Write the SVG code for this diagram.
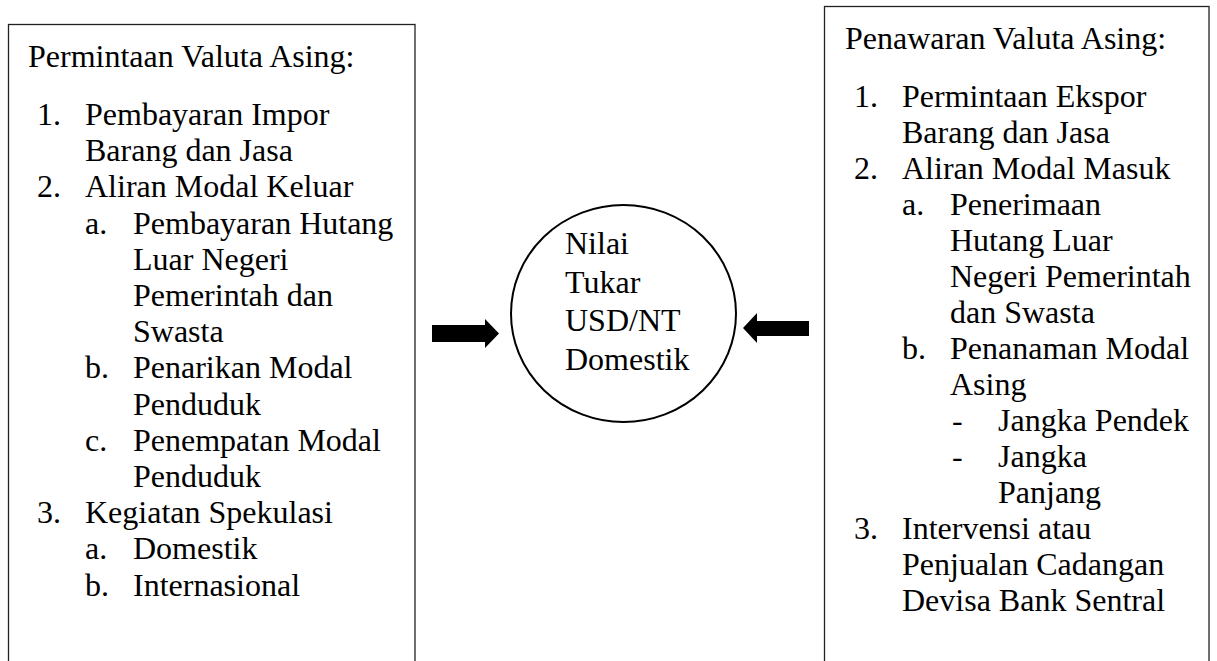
<svg xmlns="http://www.w3.org/2000/svg" width="1217" height="661" viewBox="0 0 1217 661">
<style>
  .box { fill: #fff; stroke: #222; stroke-width: 1.3; }
  .t { font-family: "Liberation Serif", "Times New Roman", serif; font-size: 32px; fill: #000; }
  .arrow { fill: #000; stroke: none; }
</style>
<rect x="0" y="0" width="1217" height="661" fill="#fff"/>
<g id="node-permintaan">
  <rect class="box" x="8.5" y="24.5" width="406.5" height="660"/>
  <text class="t">
    <tspan x="28" y="67">Permintaan Valuta Asing:</tspan>
    <tspan x="37" y="125">1.</tspan><tspan x="85" y="125">Pembayaran Impor</tspan>
    <tspan x="85" y="161.2">Barang dan Jasa</tspan>
    <tspan x="37" y="197.4">2.</tspan><tspan x="85" y="197.4">Aliran Modal Keluar</tspan>
    <tspan x="85" y="233.6">a.</tspan><tspan x="133" y="233.6">Pembayaran Hutang</tspan>
    <tspan x="133" y="269.8">Luar Negeri</tspan>
    <tspan x="133" y="306">Pemerintah dan</tspan>
    <tspan x="133" y="342.2">Swasta</tspan>
    <tspan x="85" y="378.4">b.</tspan><tspan x="133" y="378.4">Penarikan Modal</tspan>
    <tspan x="133" y="414.6">Penduduk</tspan>
    <tspan x="85" y="450.8">c.</tspan><tspan x="133" y="450.8">Penempatan Modal</tspan>
    <tspan x="133" y="487">Penduduk</tspan>
    <tspan x="37" y="523.2">3.</tspan><tspan x="85" y="523.2">Kegiatan Spekulasi</tspan>
    <tspan x="85" y="559.4">a.</tspan><tspan x="133" y="559.4">Domestik</tspan>
    <tspan x="85" y="595.6">b.</tspan><tspan x="133" y="595.6">Internasional</tspan>
  </text>
</g>
<g id="node-nilai-tukar">
  <ellipse cx="623.5" cy="313.5" rx="112.5" ry="108.5" fill="#fff" stroke="#000" stroke-width="2"/>
  <text class="t">
    <tspan x="565" y="254">Nilai</tspan>
    <tspan x="565" y="293">Tukar</tspan>
    <tspan x="565" y="331">USD/NT</tspan>
    <tspan x="565" y="370">Domestik</tspan>
  </text>
</g>
<g id="node-penawaran">
  <rect class="box" x="824.5" y="6.5" width="384.5" height="680"/>
  <text class="t">
    <tspan x="845" y="49">Penawaran Valuta Asing:</tspan>
    <tspan x="854" y="107">1.</tspan><tspan x="902" y="107">Permintaan Ekspor</tspan>
    <tspan x="902" y="143">Barang dan Jasa</tspan>
    <tspan x="854" y="179">2.</tspan><tspan x="902" y="179">Aliran Modal Masuk</tspan>
    <tspan x="902" y="215">a.</tspan><tspan x="950" y="215">Penerimaan</tspan>
    <tspan x="950" y="251">Hutang Luar</tspan>
    <tspan x="950" y="287">Negeri Pemerintah</tspan>
    <tspan x="950" y="323">dan Swasta</tspan>
    <tspan x="902" y="359">b.</tspan><tspan x="950" y="359">Penanaman Modal</tspan>
    <tspan x="950" y="395">Asing</tspan>
    <tspan x="952" y="431">-</tspan><tspan x="998" y="431">Jangka Pendek</tspan>
    <tspan x="952" y="467">-</tspan><tspan x="998" y="467">Jangka</tspan>
    <tspan x="998" y="503">Panjang</tspan>
    <tspan x="854" y="539">3.</tspan><tspan x="902" y="539">Intervensi atau</tspan>
    <tspan x="902" y="575">Penjualan Cadangan</tspan>
    <tspan x="902" y="611">Devisa Bank Sentral</tspan>
  </text>
</g>
<g id="connectors">
  <polygon class="arrow" points="432,325 485,325 485,319 499,333.5 485,348 485,342 432,342"/>
  <polygon class="arrow" points="809,321 757,321 757,313 743,328 757,343 757,336 809,336"/>
</g>
</svg>
